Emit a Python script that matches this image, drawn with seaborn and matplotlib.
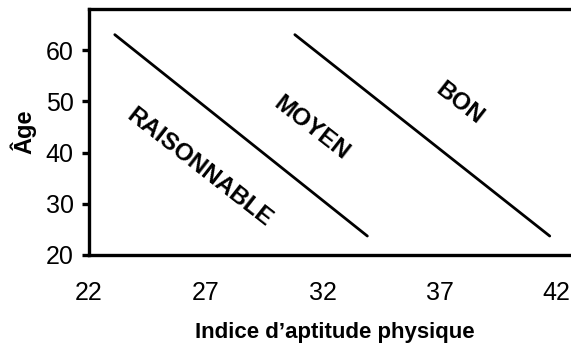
import matplotlib
matplotlib.use("Agg")
import matplotlib.pyplot as plt
import pandas as pd
import seaborn as sns

# Boundary lines between fitness categories (index vs age)
boundary_names = ["raisonnable_moyen", "moyen_bon"]
boundary_x = [[23.1, 33.9], [30.8, 41.7]]
boundary_age = [[63.0, 23.7], [63.0, 23.7]]

zone_labels = ["RAISONNABLE", "MOYEN", "BON"]
zone_x = [26.7, 31.5, 37.85]
zone_y = [37.1, 44.7, 49.5]

x_ticks = [22, 27, 32, 37, 42]
y_ticks = [20, 30, 40, 50, 60]

rows = []
for name, xs, ys in zip(boundary_names, boundary_x, boundary_age):
    for x, y in zip(xs, ys):
        rows.append({"line": name, "indice": x, "age": y})
df = pd.DataFrame(rows)

sns.set_style("white")
plt.rcParams["font.family"] = ["Liberation Sans", "DejaVu Sans"]
plt.rcParams["text.color"] = "black"
plt.rcParams["axes.labelcolor"] = "black"

fig = plt.figure(figsize=(5.71, 3.43), dpi=100)
ax = fig.add_axes([0.156, 0.2566, 0.86, 0.717])

sns.lineplot(data=df, x="indice", y="age", hue="line", units="line",
             estimator=None, palette=["black", "black"], linewidth=2.0,
             legend=False, ax=ax)

for lab, x, y in zip(zone_labels, zone_x, zone_y):
    ax.text(x, y, lab, rotation=-38, ha="center", va="center",
            fontsize=17.5, fontweight="bold", color="black",
            rotation_mode="anchor")

ax.set_xlim(22, 43)
ax.set_ylim(20, 68)
ax.set_xticks(x_ticks)
ax.set_yticks(y_ticks)
ax.set_xticklabels([str(t) for t in x_ticks])
ax.set_yticklabels([str(t) for t in y_ticks])

for sp in ax.spines.values():
    sp.set_linewidth(2.4)
    sp.set_color("black")

ax.tick_params(axis="x", direction="in", length=5, width=2.4, pad=19,
               labelsize=18, colors="black")
ax.tick_params(axis="y", direction="out", length=5, width=2.4, pad=6,
               labelsize=18, colors="black", left=True)
ax.xaxis.get_majorticklines()[0].set_visible(False)

ax.set_xlabel("Indice d\u2019aptitude physique", fontsize=16,
              fontweight="bold", labelpad=12)
ax.set_ylabel("\u00c2ge", fontsize=17, fontweight="bold", labelpad=7)

fig.savefig("out.png", dpi=100)
